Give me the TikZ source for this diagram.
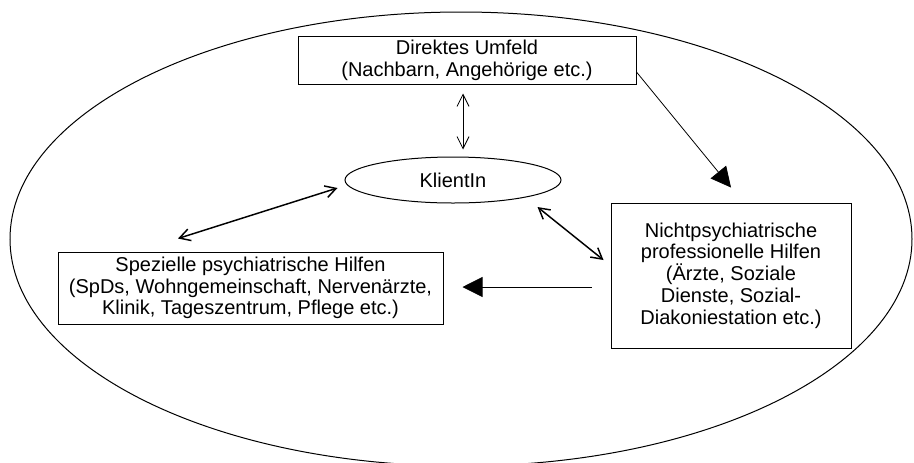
\documentclass[tikz,border=0pt]{standalone}
\usepackage{fontspec}
\setmainfont{Liberation Sans}
\usetikzlibrary{arrows.meta,calc,shapes.geometric}
\begin{document}
\begin{tikzpicture}[x=0.75pt,y=-0.75pt,
  txt/.style={align=center,font=\fontsize{15}{16.3}\selectfont,inner sep=0pt},
  box/.style={txt,draw,line width=0.75pt,rectangle},
  oval/.style={txt,draw,line width=0.75pt,ellipse},
  thinarrow/.style={line width=0.6pt,{Straight Barb[length=9pt,width=9pt]}-{Straight Barb[length=9pt,width=9pt]}},
  thickarrow/.style={line width=1.1pt,{Straight Barb[length=8pt,width=9pt]}-{Straight Barb[length=8pt,width=9pt]}},
  filledarrow/.style={line width=0.6pt,-{Triangle[length=15pt,width=15pt]}}]
\useasboundingbox (0,0) rectangle (914,462);
\clip (0,0) rectangle (914,462);
\draw[line width=0.75pt] (461,239) ellipse [x radius=338.25pt, y radius=170.25pt];
\node[box,minimum width=253.5pt,minimum height=36pt] (umfeld) at (467,60)
  {Direktes Umfeld\\(Nachbarn, Angehörige etc.)};
\node[oval,minimum width=162pt,minimum height=34.5pt] (klient) at (453,180) {KlientIn};
\node[box,minimum width=180pt,minimum height=108.75pt] (nicht) at (731,275.5)
  {Nichtpsychiatrische\\professionelle Hilfen\\(Ärzte, Soziale\\Dienste, Sozial-\\Diakoniestation etc.)};
\node[box,minimum width=288.75pt,minimum height=54pt] (spez) at (250.5,288)
  {Spezielle psychiatrische Hilfen\\(SpDs, Wohngemeinschaft, Nervenärzte,\\Klinik, Tageszentrum, Pflege etc.)};
\draw[thinarrow] ($(umfeld.south)+(-4,9)$) -- ($(klient.north)+(10,-7)$);
\draw[filledarrow] ($(umfeld.east)+(0,12)$) -- ($(nicht.north)+(0,-15)$);
\draw[thickarrow] ($(klient.west)+(-7,8)$) -- ($(spez.north)+(-72.5,-13)$);
\draw[thickarrow] ($(klient.east)+(-24,27)$) -- ($(nicht.west)+(-7,-15.5)$);
\draw[filledarrow] ($(nicht.west)+(-19,11.5)$) -- ($(spez.east)+(19,-1)$);
\end{tikzpicture}
\end{document}
